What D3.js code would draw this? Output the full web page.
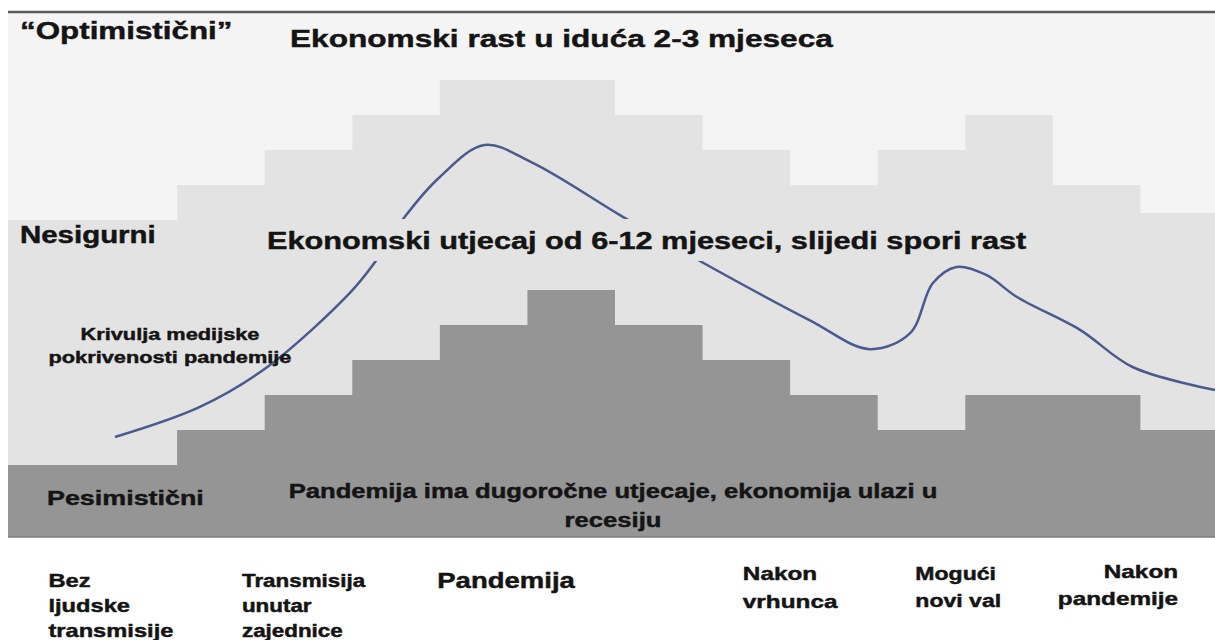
<!DOCTYPE html>
<html lang="hr">
<head>
<meta charset="UTF-8">
<title>Scenariji pandemije</title>
<style>
  body { margin: 0; background: #fff; }
  text { font-family: "Liberation Sans", Arial, sans-serif; font-weight: bold; fill: #141414; stroke: #141414; stroke-width: 0.45px; }
</style>
</head>
<body>
<div id="chart"></div>
<script src="https://d3js.org/d3.v7.min.js"></script>
<script>

// stupci (faze vremena) i razine scenarija po stupcu
var stupci = [0, 1, 2, 3, 4, 5, 6, 7, 8, 9, 10, 11, 12, 13];
var pesimisticni = [0, 0, 1, 2, 3, 4, 5, 4, 3, 2, 1, 2, 2, 1];
var nesigurni = [7, 7, 8, 9, 10, 11, 11, 10, 9, 8, 9, 10, 8, 7.2];

// krivulja medijske pokrivenosti (stupac, razina)
var medijiX = [1.29, 2.26, 3.03, 3.97, 4.26, 4.60, 5.00, 5.51, 6.06, 7.09, 7.99, 9.22, 9.91, 10.37, 10.63, 10.90, 11.24, 11.59, 12.31, 12.91, 13.85];
var medijiY = [0.80, 1.66, 2.80, 4.91, 5.80, 7.09, 8.23, 9.14, 8.63, 7.09, 5.80, 4.14, 3.31, 3.77, 5.20, 5.66, 5.43, 4.80, 3.86, 2.80, 2.14];

// oznake faza ispod grafa
var faze = [
    ["Bez", "ljudske", "transmisije"],
    ["Transmisija", "unutar", "zajednice"],
    ["Pandemija"],
    ["Nakon", "vrhunca"],
    ["Mogući", "novi val"],
    ["Nakon", "pandemije"]
];
var fazePoz = [0.53, 2.74, 4.97, 8.46, 10.43, 13.43];

var scenariji = ["\u201COptimistični\u201D", "Nesigurni", "Pesimistični"];
var opisi = [
    ["Ekonomski rast u iduća 2-3 mjeseca"],
    ["Ekonomski utjecaj od 6-12 mjeseci, slijedi spori rast"],
    ["Pandemija ima dugoročne utjecaje, ekonomija ulazi u", "recesiju"]
];

var width = 1215, height = 640;
var plot = {left: 8, right: 1215, top: 12, bottom: 537};
var stretch = 1.28;

var svg = d3.select("#chart").append("svg")
    .attr("width", width)
    .attr("height", height);

svg.append("rect").attr("width", width).attr("height", height).attr("fill", "#fff");

var x = d3.scaleLinear().domain([0, 14]).range([2, 1228]);
var y = d3.scaleLinear().domain([0, 11]).range([465, 80]);

svg.append("clipPath").attr("id", "clip")
  .append("rect")
    .attr("x", plot.left).attr("y", plot.top)
    .attr("width", plot.right - plot.left).attr("height", plot.bottom - plot.top);

var g = svg.append("g").attr("clip-path", "url(#clip)");

// optimisticni = pozadina
g.append("rect")
    .attr("x", plot.left).attr("y", plot.top)
    .attr("width", plot.right - plot.left).attr("height", plot.bottom - plot.top)
    .attr("fill", "#f4f4f4");

function steps(values) {
    var pts = stupci.map(function(k) { return {k: k, v: values[k]}; });
    pts.push({k: stupci.length, v: values[values.length - 1]});
    return pts;
}

var area = d3.area()
    .x(function(d) { return x(d.k); })
    .y0(plot.bottom)
    .y1(function(d) { return y(d.v); })
    .curve(d3.curveStepAfter);

g.append("path").datum(steps(nesigurni)).attr("d", area).attr("fill", "#e3e3e3");
g.append("path").datum(steps(pesimisticni)).attr("d", area).attr("fill", "#959595");

var line = d3.line()
    .x(function(d) { return x(d[0]); })
    .y(function(d) { return y(d[1]); })
    .curve(d3.curveCatmullRom.alpha(0.5));

g.append("path")
    .datum(medijiX.map(function(v, i) { return [v, medijiY[i]]; }))
    .attr("d", line)
    .attr("fill", "none")
    .attr("stroke", "#4b5a8e")
    .attr("stroke-width", 2.5);

// traka iza srednjeg opisa (skriva krivulju)
g.append("rect")
    .attr("x", 262).attr("y", 219)
    .attr("width", 773).attr("height", 42)
    .attr("fill", "#e3e3e3");

// okvir
svg.append("line").attr("x1", plot.left).attr("x2", plot.right)
    .attr("y1", plot.top).attr("y2", plot.top)
    .attr("stroke", "#5a5a5a").attr("stroke-width", 2.5);
svg.append("line").attr("x1", plot.left).attr("x2", plot.right)
    .attr("y1", plot.bottom).attr("y2", plot.bottom)
    .attr("stroke", "#7c7c7c").attr("stroke-width", 1.5);

function label(lines, px, py, size, anchor, lh) {
    var t = svg.append("text")
        .attr("transform", "translate(" + px + "," + py + ") scale(" + stretch + ",1)")
        .attr("text-anchor", anchor || "start")
        .style("font-size", size + "px");
    lines.forEach(function(s, i) {
        t.append("tspan").attr("x", 0).attr("y", i * (lh || 0)).text(s);
    });
}

label([scenariji[0]], 20, 39, 24.5);
label([scenariji[1]], 20, 243, 23);
label([scenariji[2]], 47, 505, 21);

label(opisi[0], 290, 47, 24.7);
label(opisi[1], 267, 249, 24);
label(opisi[2], 613, 498, 20, "middle", 29);

label(["Krivulja medijske", "pokrivenosti pandemije"], 170, 340, 17, "middle", 23);

var fazeStil = [
    {y: 587, size: 18.5, lh: 25},
    {y: 587, size: 17.5, lh: 25},
    {y: 588, size: 21.5, lh: 25},
    {y: 580, size: 19, lh: 28},
    {y: 580, size: 18, lh: 27},
    {y: 578, size: 19, lh: 27, anchor: "end"}
];
faze.forEach(function(f, i) {
    var s = fazeStil[i];
    label(f, x(fazePoz[i]), s.y, s.size, s.anchor, s.lh);
});

</script>
</body>
</html>
